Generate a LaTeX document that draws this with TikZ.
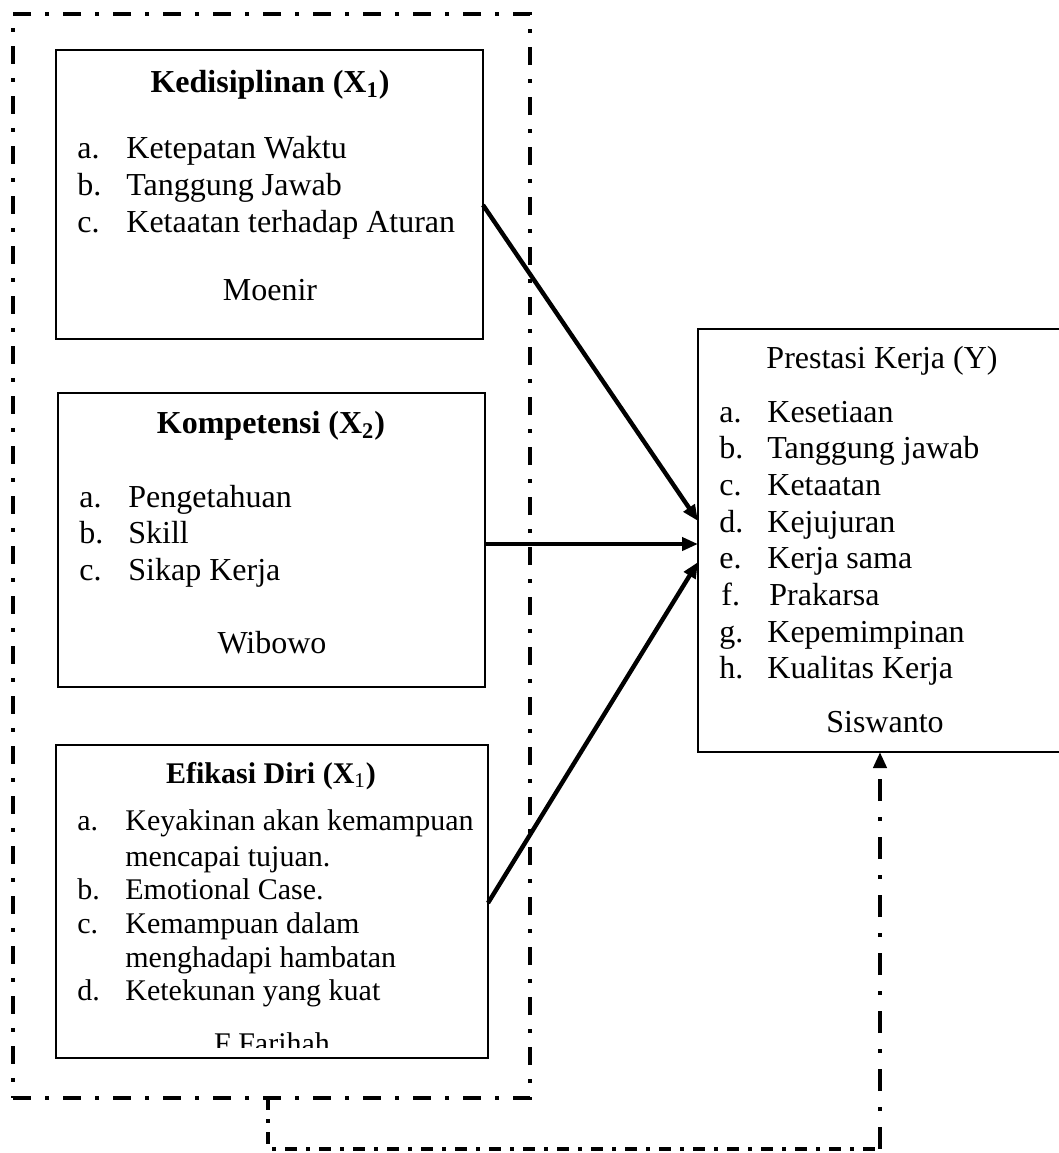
\documentclass[tikz,border=0pt]{standalone}
\usepackage{fontspec}
\setmainfont{Liberation Serif}
\usetikzlibrary{arrows.meta}
\begin{document}
\begin{tikzpicture}[x=0.5pt,y=-0.5pt,
  box/.style={draw, line width=1pt, inner sep=0pt, outer sep=0pt, fill=none},
  big/.style={font=\fontsize{16}{18}\selectfont, inner sep=0pt},
  small/.style={font=\fontsize{15}{17}\selectfont, inner sep=0pt},
  lft/.style={anchor=base west},
  ctr/.style={anchor=base},
  arr/.style={line width=2.2pt, -{Triangle[length=8pt,width=6.5pt]}},
  outerdash/.style={line width=2.2pt, dash pattern=on 9pt off 7pt on 2pt off 7pt},
  lowdash/.style={line width=2pt, dash pattern=on 6pt off 4.5pt on 2pt off 4.5pt},
  sidedash/.style={line width=2pt, dash pattern=on 11pt off 8pt on 2pt off 8pt}
]
\useasboundingbox (0,0) rectangle (1059,1153);
\clip (0,0) rectangle (1059,1153);
\fill[white] (0,0) rectangle (1059,1153);

% outer dash-dot frame
\node[draw, outerdash, inner sep=0pt, outer sep=0pt, minimum width=258.5pt, minimum height=542pt] (outer) at (271.5,556) {};

% Box 1
\node[box, minimum width=213.5pt, minimum height=144.5pt] (k1) at (269.5,194.5) {};
\node[big, ctr] (k1t) at (270,92) {\textbf{Kedisiplinan (X\textsubscript{1})}};
\node[big, lft] (k1la) at (77,158) {a.};
\node[big, lft] (k1a) at (126,158) {Ketepatan Waktu};
\node[big, lft] (k1lb) at (77,195) {b.};
\node[big, lft] (k1b) at (126,195) {Tanggung Jawab};
\node[big, lft] (k1lc) at (77,232) {c.};
\node[big, lft] (k1c) at (126,232) {Ketaatan terhadap Aturan};
\node[big, ctr] (k1s) at (270,300) {Moenir};

% Box 2
\node[box, minimum width=213.5pt, minimum height=147pt] (k2) at (271.5,540) {};
\node[big, ctr] (k2t) at (271,433) {\textbf{Kompetensi (X\textsubscript{2})}};
\node[big, lft] (k2la) at (79,507) {a.};
\node[big, lft] (k2a) at (128,507) {Pengetahuan};
\node[big, lft] (k2lb) at (79,543) {b.};
\node[big, lft] (k2b) at (128,543) {Skill};
\node[big, lft] (k2lc) at (79,580) {c.};
\node[big, lft] (k2c) at (128,580) {Sikap Kerja};
\node[big, ctr] (k2s) at (272,653) {Wibowo};

% Box 3
\node[box, minimum width=216pt, minimum height=156.5pt] (k3) at (272,901.5) {};
\node[small, ctr] (k3t) at (271,783) {\textbf{Efikasi Diri (X\textsubscript{\normalfont 1})}};
\node[small, lft] (k3la) at (77,830) {a.};
\node[small, lft] (k3a) at (125,830) {Keyakinan akan kemampuan};
\node[small, lft] (k3a2) at (125,866) {mencapai tujuan.};
\node[small, lft] (k3lb) at (77,899) {b.};
\node[small, lft] (k3b) at (125,899) {Emotional Case.};
\node[small, lft] (k3lc) at (77,933) {c.};
\node[small, lft] (k3c) at (125,933) {Kemampuan dalam};
\node[small, lft] (k3c2) at (125,967) {menghadapi hambatan};
\node[small, lft] (k3ld) at (77,1000) {d.};
\node[small, lft] (k3d) at (125,1000) {Ketekunan yang kuat};
\begin{scope}
  \clip (56,1000) rectangle (488,1047);
  \node[small, ctr] (k3s) at (272,1053) {F Farihah};
\end{scope}

% Right box
\node[box, minimum width=184pt, minimum height=211.5pt] (rb) at (882,540.5) {};
\node[big, ctr] (rbt) at (882,368) {Prestasi Kerja (Y)};
\node[big, lft] (rbla) at (719,422) {a.};
\node[big, lft] (rba) at (767,422) {Kesetiaan};
\node[big, lft] (rblb) at (719,458) {b.};
\node[big, lft] (rbb) at (767,458) {Tanggung jawab};
\node[big, lft] (rblc) at (719,495) {c.};
\node[big, lft] (rbc) at (767,495) {Ketaatan};
\node[big, lft] (rbld) at (719,532) {d.};
\node[big, lft] (rbd) at (767,532) {Kejujuran};
\node[big, lft] (rble) at (719,568) {e.};
\node[big, lft] (rbe) at (767,568) {Kerja sama};
\node[big, lft] (rblf) at (721,605) {f.};
\node[big, lft] (rbf) at (769,605) {Prakarsa};
\node[big, lft] (rblg) at (719,642) {g.};
\node[big, lft] (rbg) at (767,642) {Kepemimpinan};
\node[big, lft] (rblh) at (719,678) {h.};
\node[big, lft] (rbh) at (767,678) {Kualitas Kerja};
\node[big, ctr] (rbs) at (885,732) {Siswanto};

% connector heights
\coordinate (s1) at (0,205);
\coordinate (e1) at (0,521);
\coordinate (s2) at (0,544);
\coordinate (s3) at (0,903);
\coordinate (e3) at (0,562);

\draw[arr] (k1.east |- s1) -- (rb.west |- e1);
\draw[arr] (k2.east |- s2) -- (rb.west |- s2);
\draw[arr] (k3.east |- s3) -- (rb.west |- e3);

% lower dash-dot feedback connector
\coordinate (p1) at (268,1098);
\coordinate (p2) at (880,1149);
\draw[lowdash] (outer.south -| p1) |- (p2);
\draw[sidedash, -{Triangle[length=8pt,width=6.5pt]}] (p2) -- (rb.south -| p2);
\end{tikzpicture}
\end{document}
